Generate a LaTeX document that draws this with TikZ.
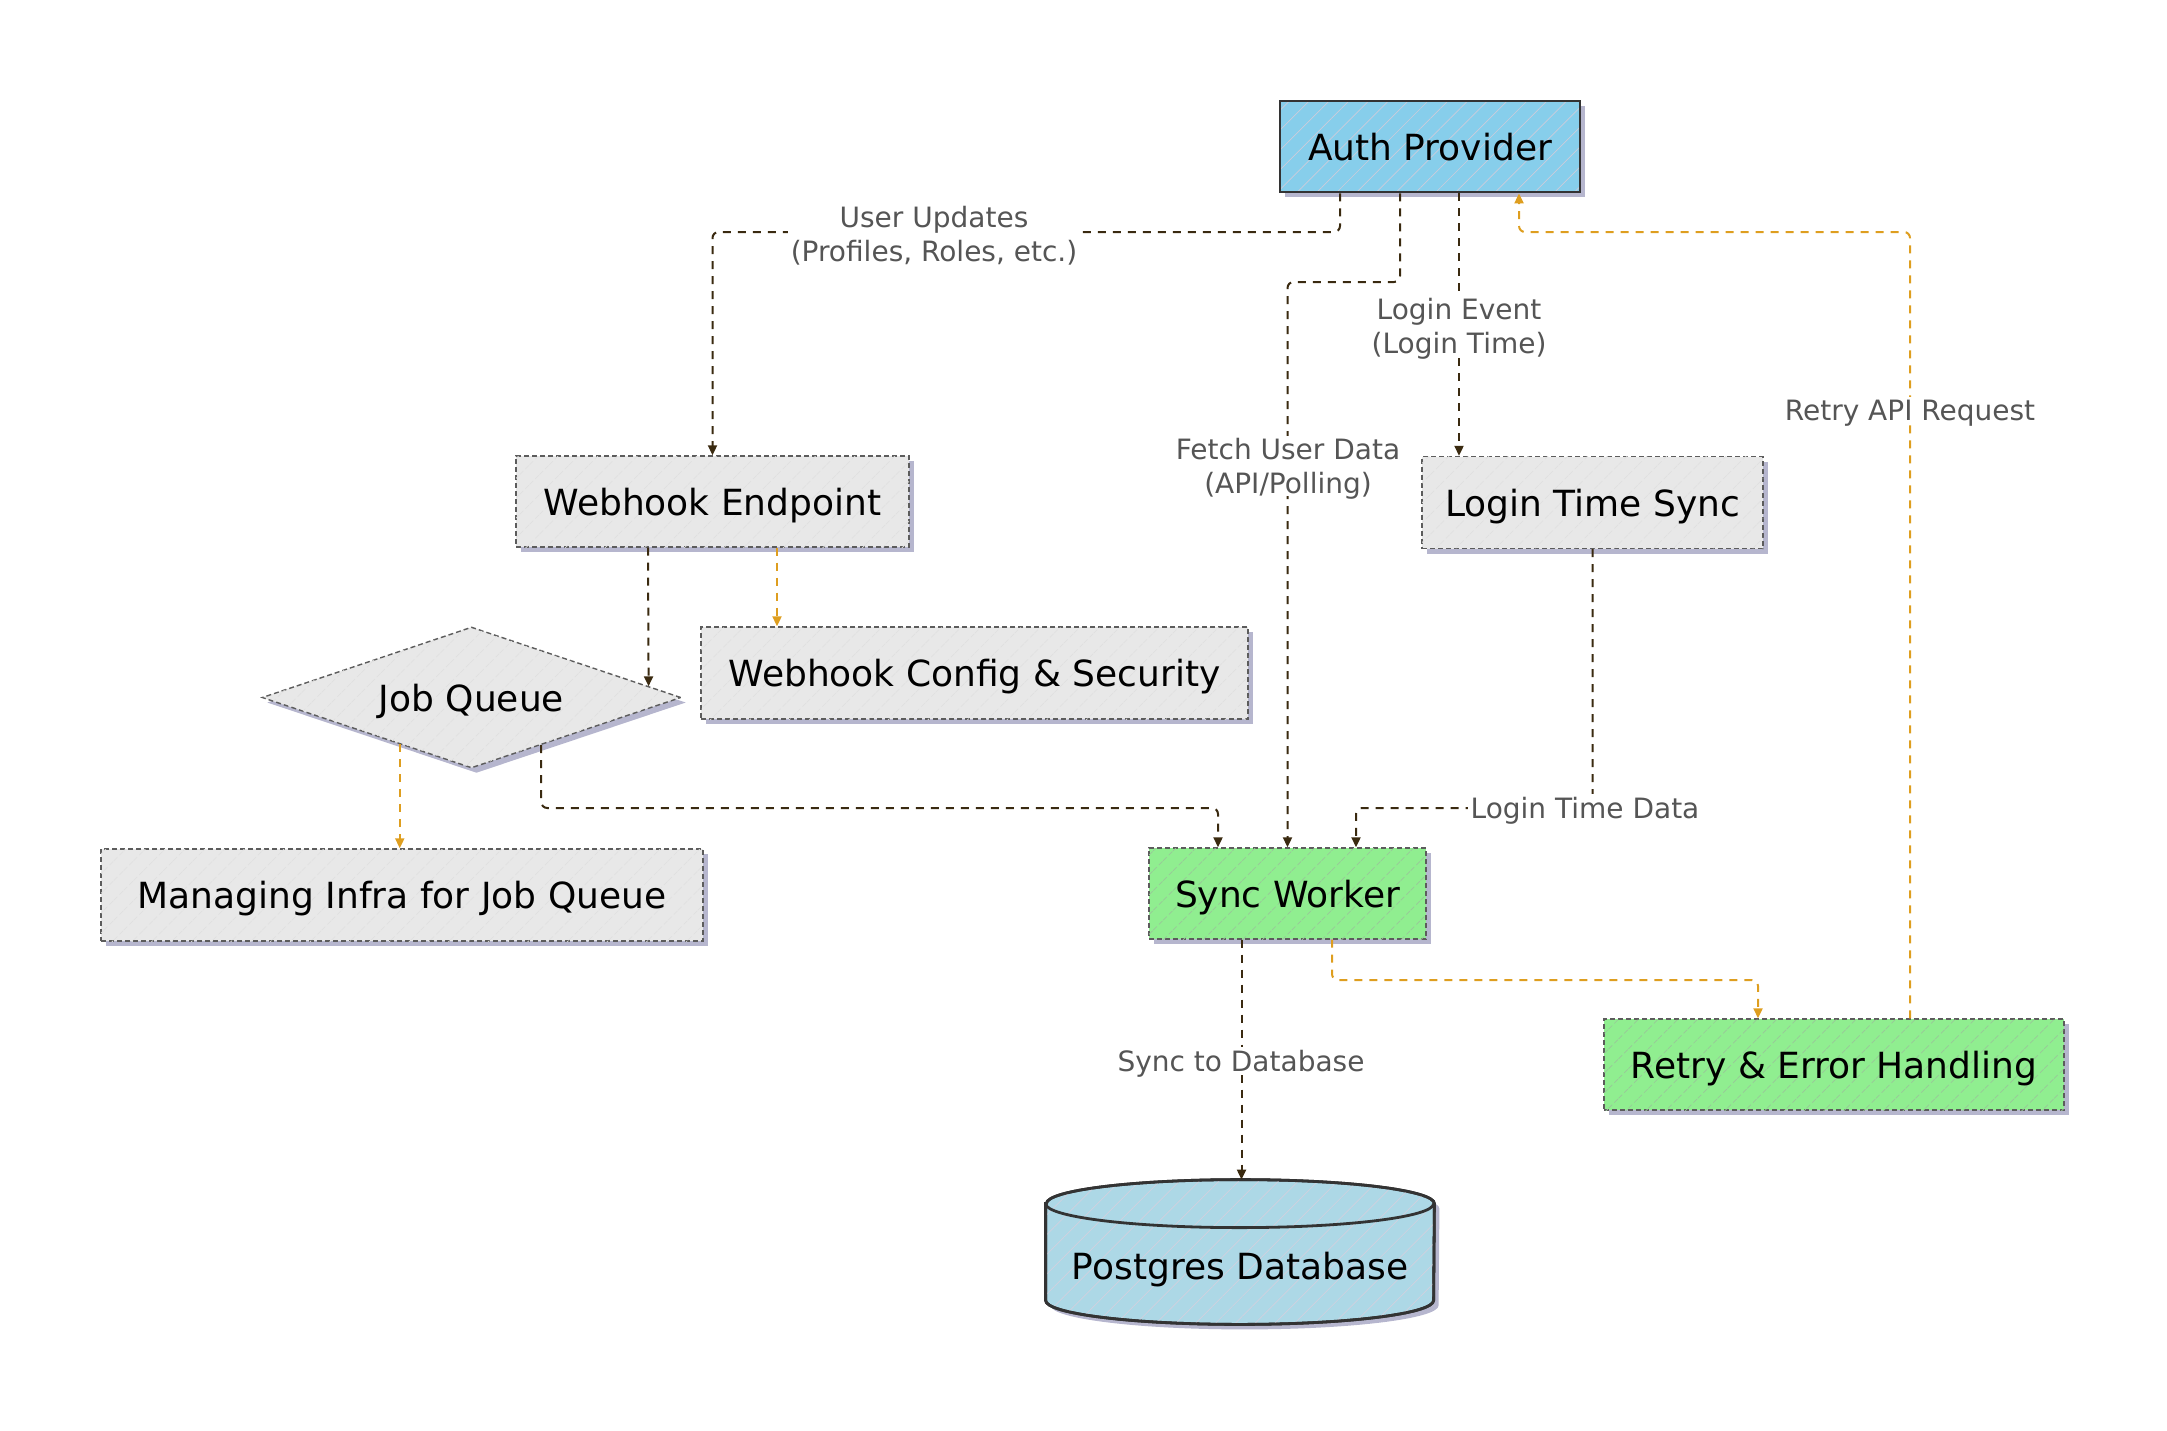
\documentclass[tikz,border=0pt]{standalone}
\usepackage{fontspec}
\setmainfont{DejaVu Sans}
\usetikzlibrary{shapes.geometric,arrows.meta,calc,shadows,patterns.meta}
\definecolor{edgedark}{HTML}{3A2A10}
\definecolor{edgeorange}{HTML}{DE9E1F}
\definecolor{boxgray}{HTML}{E8E8E8}
\definecolor{skyfill}{HTML}{87CEEB}
\definecolor{greenfill}{HTML}{90EE90}
\definecolor{dbfill}{HTML}{ADD8E6}
\definecolor{shadowcol}{HTML}{B6B6CE}
\definecolor{labelgray}{HTML}{555555}
\definecolor{bordercol}{HTML}{333333}
\tikzset{
  hatch/.style={postaction={pattern={Lines[angle=45,distance=7pt,line width=0.35pt]},pattern color=#1,draw=none}},
  reborder/.style={postaction={draw=bordercol,line width=1.4pt,solid,fill=none}},
  shad/.style={drop shadow={shadow xshift=2.5pt,shadow yshift=-2.5pt,fill=shadowcol,opacity=1}},
  basebox/.style={rectangle,inner sep=0pt,font=\fontsize{18}{21}\selectfont,text=black,text depth=0pt,shad},
  solidbox/.style={basebox,draw=bordercol,line width=1.4pt,solid},
  dashbox/.style={basebox,draw=bordercol!80,line width=0.7pt,dash pattern=on 2.5pt off 1.5pt},
  graybox/.style={dashbox,fill=boxgray,hatch=black!12},
  greenbox/.style={dashbox,fill=greenfill,hatch=green!45!black!40},
  dk/.style={draw=edgedark,line width=1pt,dash pattern=on 4pt off 3.5pt,rounded corners=3pt,-{Triangle[length=5pt,width=4.5pt]}},
  og/.style={draw=edgeorange,line width=1pt,dash pattern=on 4pt off 3.5pt,rounded corners=3pt,-{Triangle[length=5pt,width=4.5pt]}},
  elabel/.style={font=\fontsize{14}{16.7}\selectfont,text=labelgray,align=center,fill=white,inner sep=1.5pt,text depth=0pt}
}
\begin{document}
\begin{tikzpicture}[x=0.5pt,y=-0.5pt]
\useasboundingbox (0,0) rectangle (2167,1430);
% nodes
\node[solidbox,fill=skyfill,hatch=blue!30!black!20,reborder,minimum width=150pt,minimum height=45.5pt] (auth) at (1430,146.5) {Auth Provider};
\node[graybox,minimum width=196.5pt,minimum height=45.5pt] (web) at (712.5,501.5) {Webhook Endpoint};
\node[graybox,minimum width=170.5pt,minimum height=46pt] (login) at (1592.5,502.5) {Login Time Sync};
\node[graybox,minimum width=273.5pt,minimum height=46pt] (cfg) at (974.5,673) {Webhook Config \& Security};
\node[dashbox,shape=diamond,aspect=3,fill=boxgray,hatch=black!12,minimum width=209.5pt,minimum height=70.5pt] (jq) at (471.5,697.5) {Job Queue};
\node[graybox,minimum width=301pt,minimum height=46pt] (infra) at (402,895) {Managing Infra for Job Queue};
\node[greenbox,minimum width=138.5pt,minimum height=45.5pt] (sync) at (1287.5,893.5) {Sync Worker};
\node[greenbox,minimum width=230pt,minimum height=45.5pt] (retry) at (1834,1064.5) {Retry \& Error Handling};
% database cylinder
\node[rectangle,inner sep=0pt,minimum width=194pt,minimum height=72pt] (pg) at (1240,1252) {};
\path[draw=bordercol,line width=1.4pt,fill=dbfill,shad,hatch=blue!30!black!18,reborder]
  ($(pg.north west)+(0,24)$) -- ($(pg.south west)+(0,-24)$)
  arc[start angle=180,end angle=360,x radius=97pt,y radius=12pt]
  -- ($(pg.north east)+(0,24)$)
  arc[start angle=0,end angle=180,x radius=97pt,y radius=12pt] -- cycle;
\draw[bordercol,line width=1.4pt] ($(pg.north west)+(0,24)$) arc[start angle=180,end angle=360,x radius=97pt,y radius=12pt];
\node[font=\fontsize{18}{21}\selectfont,text=black,inner sep=0pt,text depth=0pt] (pgtext) at ($(pg.center)+(0,14)$) {Postgres Database};
% connector helper coordinates
\coordinate (a1) at ($(auth.south)+(-90,0)$);
\coordinate (a2) at ($(auth.south)+(-30,0)$);
\coordinate (a3) at ($(auth.south)+(29,0)$);
\coordinate (a4) at ($(auth.south)+(89,0)$);
\coordinate (r4) at ($(retry.north)+(76,0)$);
\coordinate (w5) at ($(web.south)+(-64.5,0)$);
\coordinate (j5) at ($(jq.north)!0.8425!(jq.east)$);
\coordinate (w6) at ($(web.south)+(64.5,0)$);
\coordinate (j7) at ($(jq.west)!0.6587!(jq.south)$);
\coordinate (j8) at ($(jq.south)!0.3317!(jq.east)$);
\coordinate (s8) at ($(sync.north)+(-69.5,0)$);
\coordinate (s9) at ($(sync.north)+(68.5,0)$);
\coordinate (s10) at ($(sync.south)+(-46,0)$);
\coordinate (s11) at ($(sync.south)+(44.5,0)$);
\coordinate (r11) at ($(retry.north)+(-76,0)$);
% connectors
\draw[dk] (a1) -- (a1 |- 0,232) -- (web.north |- 0,232) -- (web.north);
\draw[dk] (a2) -- (a2 |- 0,282) -- (sync.north |- 0,282) -- (sync.north);
\draw[dk] (a3) -- (a3 |- login.north);
\draw[og] (r4) -- (r4 |- 0,232) -- (a4 |- 0,232) -- (a4);
\draw[dk] (w5) -- (j5);
\draw[og] (w6) -- (w6 |- cfg.north);
\draw[og] (j7) -- (j7 |- infra.north);
\draw[dk] (j8) -- (j8 |- 0,808) -- (s8 |- 0,808) -- (s8);
\draw[dk] (login.south) -- (login.south |- 0,808) -- (s9 |- 0,808) -- (s9);
\draw[dk] (s10) -- (s10 |- pg.north);
\draw[og] (s11) -- (s11 |- 0,980) -- (r11 |- 0,980) -- (r11);
% labels
\node[elabel] (l1) at (934,234) {User Updates\\(Profiles, Roles, etc.)};
\node[elabel] (l2) at (1288,466) {Fetch User Data\\(API/Polling)};
\node[elabel] (l3) at (1459,326) {Login Event\\(Login Time)};
\node[elabel] (l4) at (1910,410) {Retry API Request};
\node[elabel] (l9) at (1585,808) {Login Time Data};
\node[elabel] (l10) at (1241,1061) {Sync to Database};
\end{tikzpicture}
\end{document}
